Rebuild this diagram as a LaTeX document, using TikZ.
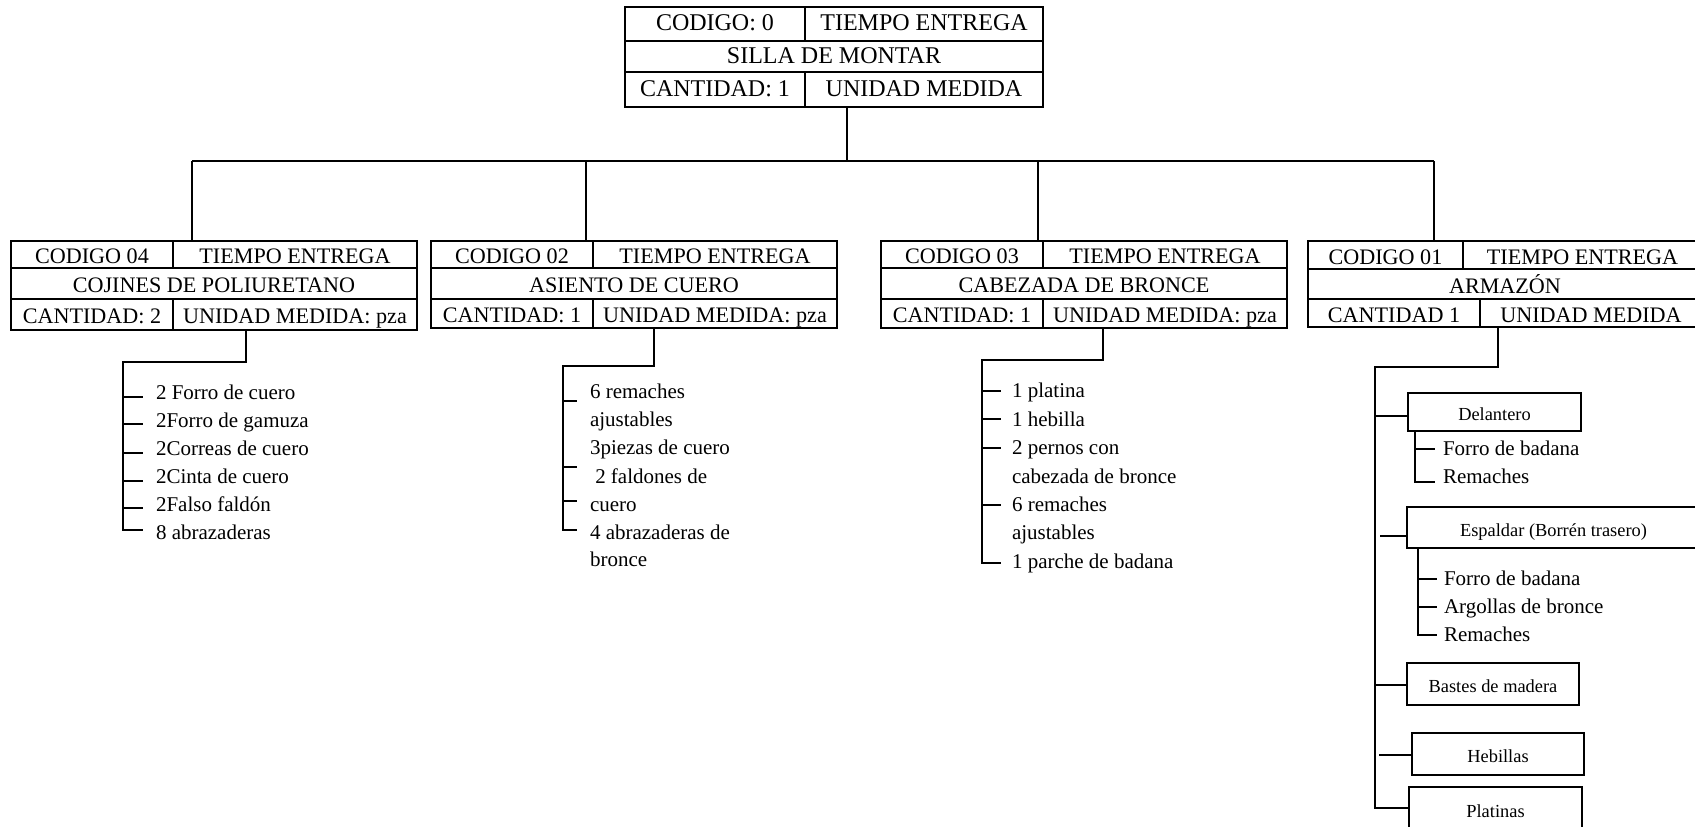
\documentclass[tikz,border=0pt]{standalone}
\usepackage{fontspec}
\setmainfont{Liberation Serif}

% cell of a record box: [style]{name}{x1}{y1}{x2}{y2}{text}
\newcommand\boxcell[7][]{%
  \node[cellst,#1,minimum width={(#5-#3)*0.75pt},minimum height={(#6-#4)*0.75pt}]
    (#2) at ({(#3+#5)/2},{(#4+#6)/2}) {#7};}

\begin{document}
\begin{tikzpicture}[x=0.75pt,y=-0.75pt,line width=1.5pt,
  cellst/.style={draw,line width=1.5pt,inner sep=0pt,
    font=\fontsize{16.6}{20}\selectfont,text height=14pt,text depth=0pt},
  topcell/.style={font=\fontsize{18}{21}\selectfont,text height=11.9pt,text depth=1.5pt},
  smallbox/.style={cellst,line width=1.1pt,font=\fontsize{13.8}{16}\selectfont,
    text height=12.8pt,text depth=0pt},
  item/.style={anchor=west,inner sep=0pt,font=\fontsize{15.75}{18}\selectfont,
    text height=10.4pt,text depth=0pt}]
\useasboundingbox (0,0) rectangle (1695,827);
\fill[white] (0,0) rectangle (1695,827);
\clip (0,0) rectangle (1695,827);

% ---------- root record ----------
\boxcell[topcell]{t1}{625}{7}{805}{41}{CODIGO: 0}
\boxcell[topcell]{t2}{805}{7}{1043}{41}{TIEMPO ENTREGA}
\boxcell[topcell]{t3}{625}{41}{1043}{72}{SILLA DE MONTAR}
\boxcell[topcell]{t4}{625}{72}{805}{107}{CANTIDAD: 1}
\boxcell[topcell]{t5}{805}{72}{1043}{107}{UNIDAD MEDIDA}

% ---------- component records ----------
\boxcell{c1a}{11}{241}{173}{268}{CODIGO 04}
\boxcell{c1b}{173}{241}{417}{268}{TIEMPO ENTREGA}
\boxcell{c1c}{11}{268}{417}{299}{COJINES DE POLIURETANO}
\boxcell{c1d}{11}{299}{173}{330}{CANTIDAD: 2}
\boxcell{c1e}{173}{299}{417}{330}{UNIDAD MEDIDA: pza}

\boxcell{c2a}{431}{241}{593}{268}{CODIGO 02}
\boxcell{c2b}{593}{241}{837}{268}{TIEMPO ENTREGA}
\boxcell{c2c}{431}{268}{837}{299}{ASIENTO DE CUERO}
\boxcell{c2d}{431}{299}{593}{328}{CANTIDAD: 1}
\boxcell{c2e}{593}{299}{837}{328}{UNIDAD MEDIDA: pza}

\boxcell{c3a}{881}{241}{1043}{268}{CODIGO 03}
\boxcell{c3b}{1043}{241}{1287}{268}{TIEMPO ENTREGA}
\boxcell{c3c}{881}{268}{1287}{299}{CABEZADA DE BRONCE}
\boxcell{c3d}{881}{299}{1043}{328}{CANTIDAD: 1}
\boxcell{c3e}{1043}{299}{1287}{328}{UNIDAD MEDIDA: pza}

\boxcell{c4a}{1308}{241}{1463}{269}{CODIGO 01}
\boxcell{c4b}{1463}{241}{1702}{269}{TIEMPO ENTREGA}
\boxcell{c4c}{1308}{269}{1702}{299}{ARMAZÓN}
\boxcell{c4d}{1308}{299}{1480}{327}{CANTIDAD 1}
\boxcell{c4e}{1480}{299}{1702}{327}{UNIDAD MEDIDA}

% ---------- tree from root to components ----------
\coordinate (hub) at (847,161);
\coordinate (j1) at (192,161);
\coordinate (j2) at (586,161);
\coordinate (j3) at (1038,161);
\coordinate (j4) at (1434,161);
\draw (t4.south -| hub) -- (hub);
\draw (j1) -- (j4);
\draw (j1) -- (j1 |- c1b.north);
\draw (j2) -- (j2 |- c2a.north);
\draw (j3) -- (j3 |- c3a.north);
\draw (j4) -- (j4 |- c4a.north);

% ---------- COJINES DE POLIURETANO ----------
\coordinate (s1) at (246,362);
\coordinate (k1) at (123,362);
\draw (c1e.south -| s1) -- (s1) -- (k1) -- (k1 |- 0,530) -- ++(20,0);
\foreach \y in {397,424,453,481,508} \draw (k1 |- 0,\y) -- ++(20,0);
\node[item] (a1) at (155,393) {2 Forro de cuero};
\node[item] (a2) at (155,421) {2Forro de gamuza};
\node[item] (a3) at (155,449) {2Correas de cuero};
\node[item] (a4) at (155,477) {2Cinta de cuero};
\node[item] (a5) at (155,505) {2Falso faldón};
\node[item] (a6) at (155,533) {8 abrazaderas};

% ---------- ASIENTO DE CUERO ----------
\coordinate (s2) at (654,366);
\coordinate (k2) at (563,366);
\draw (c2e.south -| s2) -- (s2) -- (k2) -- (k2 |- 0,530) -- ++(14,0);
\foreach \y in {401,467,501} \draw (k2 |- 0,\y) -- ++(14,0);
\node[item] (b1) at (589,392) {6 remaches};
\node[item] (b2) at (589,420) {ajustables};
\node[item] (b3) at (589,448) {3piezas de cuero};
\node[item] (b4) at (589,477) {\hspace{0.25em}2 faldones de};
\node[item] (b5) at (589,505) {cuero};
\node[item] (b6) at (589,533) {4 abrazaderas de};
\node[item] (b7) at (589,560) {bronce};

% ---------- CABEZADA DE BRONCE ----------
\coordinate (s3) at (1103,360);
\coordinate (k3) at (982,360);
\draw (c3e.south -| s3) -- (s3) -- (k3) -- (k3 |- 0,563) -- ++(19,0);
\foreach \y in {391,419,448,505} \draw (k3 |- 0,\y) -- ++(19,0);
\node[item] (d1) at (1011,391) {1 platina};
\node[item] (d2) at (1011,420) {1 hebilla};
\node[item] (d3) at (1011,448) {2 pernos con};
\node[item] (d4) at (1011,477) {cabezada de bronce};
\node[item] (d5) at (1011,505) {6 remaches};
\node[item] (d6) at (1011,533) {ajustables};
\node[item] (d7) at (1011,562) {1 parche de badana};

% ---------- ARMAZÓN ----------
\boxcell[smallbox]{dl}{1408}{393}{1581}{431}{Delantero}
\boxcell[smallbox]{es}{1407}{507}{1700}{548}{Espaldar (Borrén trasero)}
\boxcell[smallbox]{bm}{1407}{663}{1579}{705}{Bastes de madera}
\boxcell[smallbox]{hb}{1412}{733}{1584}{775}{Hebillas}
\boxcell[smallbox]{pl}{1409}{787}{1582}{830}{Platinas}

\coordinate (s4) at (1498,367);
\coordinate (k4) at (1375,367);
\draw (c4e.south -| s4) -- (s4) -- (k4) -- (k4 |- 0,808) -- (pl.west |- 0,808);
\draw (k4 |- 0,416) -- (dl.west |- 0,416);
\draw ([xshift=4]k4 |- 0,536) -- (es.west |- 0,536);
\draw (k4 |- 0,685) -- (bm.west |- 0,685);
\draw ([xshift=3]k4 |- 0,755) -- (hb.west |- 0,755);

% parts of the front piece
\coordinate (k5) at (1415,431);
\draw (dl.south -| k5) -- (k5 |- 0,482) -- ++(20,0);
\draw (k5 |- 0,449) -- ++(20,0);
\node[item] (e1) at (1442,449) {Forro de badana};
\node[item] (e2) at (1442,477) {Remaches};

% parts of the back piece
\coordinate (k6) at (1418,548);
\draw (es.south -| k6) -- (k6 |- 0,635) -- ++(19,0);
\foreach \y in {579,607} \draw (k6 |- 0,\y) -- ++(19,0);
\node[item] (f1) at (1443,579) {Forro de badana};
\node[item] (f2) at (1443,607) {Argollas de bronce};
\node[item] (f3) at (1443,635) {Remaches};
\end{tikzpicture}
\end{document}
